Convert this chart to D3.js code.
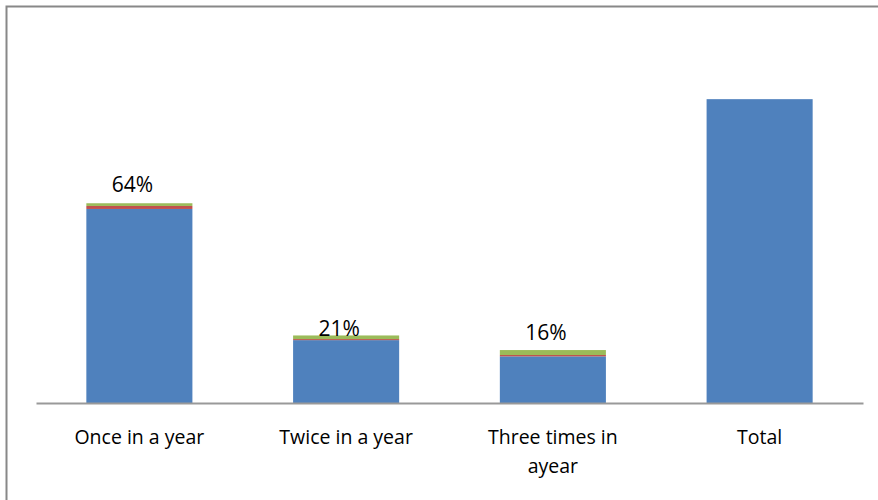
<!DOCTYPE html>
<html>
<head>
<meta charset="utf-8">
<script src="https://cdn.jsdelivr.net/npm/d3@7"></script>
<style>
  body { margin: 0; background: #fff; }
  svg text { font-family: "Open Sans", sans-serif; fill: #000; }
</style>
</head>
<body>
<svg id="chart" width="878" height="500"></svg>
<script>
const categories = ['Once in a year', 'Twice in a year', 'Three times in|ayear', 'Total'];
const blueValues = [64.5, 20.9, 15.5, 101];
const redValues = [1.0, 0.35, 0.45, 0];
const greenValues = [0.9, 1.2, 1.65, 0];
const labelTexts = ['64%', '21%', '16%', null];

const svg = d3.select('svg#chart');

// outer frame (runs off the right and bottom edges)
svg.append('rect')
    .attr('x', 6.5).attr('y', 6.5)
    .attr('width', 900).attr('height', 520)
    .attr('fill', 'none')
    .attr('stroke', '#888')
    .attr('stroke-width', 2);

const x = d3.scaleBand()
    .domain(categories)
    .range([36, 863])
    .paddingInner(0.487)
    .paddingOuter(0.2435);

const y = d3.scaleLinear()
    .domain([0, 120])
    .range([403, 42]);

const rows = categories.map((c, i) => ({
    cat: c, blue: blueValues[i], red: redValues[i], green: greenValues[i]
}));
const stack = d3.stack().keys(['blue', 'red', 'green'])(rows);
const colors = { blue: '#4F81BD', red: '#C0504D', green: '#9BBB59' };

svg.selectAll('g.series')
    .data(stack)
    .enter().append('g')
    .attr('class', 'series')
    .attr('fill', (d) => colors[d.key])
    .selectAll('rect')
    .data((d) => d)
    .enter().append('rect')
    .attr('x', (d) => x(d.data.cat))
    .attr('width', x.bandwidth())
    .attr('y', (d) => y(d[1]))
    .attr('height', (d) => y(d[0]) - y(d[1]));

// axis line
const axis = svg.append('g')
    .attr('transform', 'translate(0,403)')
    .call(d3.axisBottom(x).tickSize(0).tickFormat(''));
axis.select('.domain')
    .attr('stroke', '#999')
    .attr('stroke-width', 2);

// category labels
categories.forEach((c, i) => {
    const lines = c.split('|');
    const t = svg.append('text')
        .attr('x', x(c) + x.bandwidth() / 2)
        .attr('y', 444)
        .attr('text-anchor', 'middle')
        .style('font-size', '19.5px');
    lines.forEach((l, j) => {
        t.append('tspan')
            .attr('x', x(c) + x.bandwidth() / 2)
            .attr('dy', j === 0 ? 0 : 29)
            .text(l);
    });
});

// data labels
const labelDy = [-11, 1, -10];
labelTexts.forEach((lab, i) => {
    if (!lab) return;
    const top = blueValues[i] + redValues[i] + greenValues[i];
    svg.append('text')
        .attr('x', x(categories[i]) + x.bandwidth() / 2 - 7)
        .attr('y', y(top) + labelDy[i])
        .attr('text-anchor', 'middle')
        .style('font-size', '21px')
        .text(lab);
});
</script>
</body>
</html>
